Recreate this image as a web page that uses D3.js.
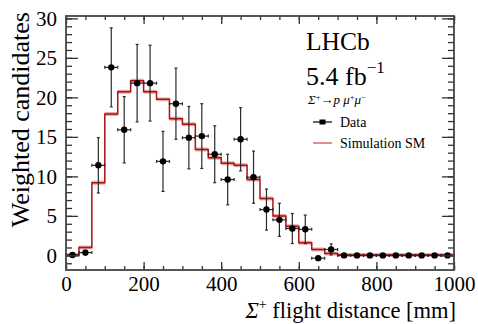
<!DOCTYPE html>
<html>
<head>
<meta charset="utf-8">
<script src="https://cdn.jsdelivr.net/npm/d3@7"></script>
<style>
  body { margin: 0; background: #fff; }
  svg text { font-family: "Liberation Serif", "Times New Roman", Times, serif !important; fill: #000; }
</style>
</head>
<body>
<svg id="chart"></svg>
<script>
// Histogram binning (30 bins of 33.3 mm)
const xMin = 0;
const xMax = 1000;
const nBins = 30;

// Data: weighted candidates per bin and their uncertainties
const dataValues = [0.05, 0.35, 11.4, 23.8, 15.9, 21.8, 21.8, 11.9, 19.2, 14.9,
                    15.1, 12.8, 9.6, 14.7, 9.9, 5.8, 4.5, 3.4, 3.3, -0.35,
                    0.75, 0, 0, 0, 0, 0, 0, 0, 0, 0];
const dataErrors = [0, 0.3, 3.5, 5.0, 4.2, 4.9, 4.8, 3.8, 4.5, 3.95,
                    4.1, 3.6, 3.2, 4.0, 3.3, 2.6, 2.1, 1.9, 1.8, 0.2,
                    0.7, 0, 0, 0, 0, 0, 0, 0, 0, 0];

// Simulation SM histogram
const simValues = [0.05, 1.0, 9.2, 17.9, 20.7, 22.1, 20.7, 19.75, 17.3, 16.6,
                   13.4, 12.35, 11.65, 11.4, 9.6, 7.2, 5.0, 3.7, 1.6, 0.75,
                   0.25, 0.05, 0.05, 0.05, 0.05, 0.05, 0.05, 0.05, 0.05, 0.05];

// Axis ticks
const xMajorTicks = [0, 200, 400, 600, 800, 1000];
const yMajorTicks = [0, 5, 10, 15, 20, 25, 30];

function drawChart() {
    const width = 478;
    const height = 324;
    const margin = { top: 16, right: 24, bottom: 54, left: 66 };

    const svg = d3.select('#chart')
        .attr('width', width)
        .attr('height', height)
        .attr('font-family', '"Liberation Serif", "Times New Roman", serif');

    const x = d3.scaleLinear()
        .domain([xMin, xMax])
        .range([margin.left, width - margin.right]);

    const y = d3.scaleLinear()
        .domain([-1.85, 30.3])
        .range([height - margin.bottom, margin.top]);

    const binWidth = (xMax - xMin) / nBins;
    const bins = d3.range(nBins).map(i => ({
        lo: xMin + i * binWidth,
        hi: xMin + (i + 1) * binWidth,
        mid: xMin + (i + 0.5) * binWidth,
        data: dataValues[i],
        err: dataErrors[i],
        sim: simValues[i]
    }));

    // Simulation as a step line with a pale band underneath
    const stepPoints = [];
    bins.forEach(b => {
        stepPoints.push([b.lo, b.sim]);
        stepPoints.push([b.hi, b.sim]);
    });

    svg.append('path')
        .attr('fill', '#e9a9a9')
        .attr('d', d3.area()
            .curve(d3.curveStepAfter)
            .x(d => x(d.lo))
            .y0(d => y(d.sim - 0.25))
            .y1(d => y(d.sim + 0.25))(bins.concat([{ lo: xMax, sim: bins[nBins - 1].sim }])));

    svg.append('path')
        .attr('fill', 'none')
        .attr('stroke', '#b01010')
        .attr('stroke-width', 1.5)
        .attr('d', d3.line().x(d => x(d[0])).y(d => y(d[1]))(stepPoints));

    // Data points with error bars
    const pts = svg.append('g');
    bins.forEach(b => {
        const cx = x(b.mid);
        const cy = y(b.data);
        const g = pts.append('g').attr('stroke', '#2a2a2a').attr('stroke-width', 1.2);
        // horizontal bar
        g.append('line').attr('x1', x(b.lo)).attr('x2', x(b.hi)).attr('y1', cy).attr('y2', cy);
        g.append('line').attr('x1', x(b.lo)).attr('x2', x(b.lo)).attr('y1', cy - 1.5).attr('y2', cy + 1.5);
        g.append('line').attr('x1', x(b.hi)).attr('x2', x(b.hi)).attr('y1', cy - 1.5).attr('y2', cy + 1.5);
        // vertical bar
        if (b.err > 0) {
            const top = y(b.data + b.err);
            const bot = y(b.data - b.err);
            g.append('line').attr('x1', cx).attr('x2', cx).attr('y1', top).attr('y2', bot);
            g.append('line').attr('x1', cx - 1.5).attr('x2', cx + 1.5).attr('y1', top).attr('y2', top);
            g.append('line').attr('x1', cx - 1.5).attr('x2', cx + 1.5).attr('y1', bot).attr('y2', bot);
        }
        pts.append('circle')
            .attr('cx', cx)
            .attr('cy', cy)
            .attr('r', 3.2)
            .attr('fill', '#000');
    });

    // Axes: ticks drawn inward on all four sides
    const x0 = margin.left, x1 = width - margin.right;
    const y0 = height - margin.bottom, y1 = margin.top;
    const xMinor = d3.range(xMin, xMax + 1, 50);
    const yMinor = d3.range(-1, 31, 1);

    function styleAxis(g) {
        g.select('.domain').remove();
        g.attr('font-family', null);
        g.selectAll('line').attr('stroke', '#333').attr('stroke-width', 1.3);
    }

    svg.append('g')
        .attr('transform', `translate(0,${y0})`)
        .call(d3.axisBottom(x).tickValues(xMinor).tickSize(-4).tickFormat(''))
        .call(styleAxis);
    svg.append('g')
        .attr('transform', `translate(0,${y0})`)
        .call(d3.axisBottom(x).tickValues(xMajorTicks).tickSize(-8).tickPadding(6).tickFormat(d3.format('d')))
        .call(styleAxis)
        .selectAll('text')
        .attr('font-size', 21);

    svg.append('g')
        .attr('transform', `translate(0,${y1})`)
        .call(d3.axisTop(x).tickValues(xMinor).tickSize(-4).tickFormat(''))
        .call(styleAxis);
    svg.append('g')
        .attr('transform', `translate(0,${y1})`)
        .call(d3.axisTop(x).tickValues(xMajorTicks).tickSize(-8).tickFormat(''))
        .call(styleAxis);

    svg.append('g')
        .attr('transform', `translate(${x0},0)`)
        .call(d3.axisLeft(y).tickValues(yMinor).tickSize(-6).tickFormat(''))
        .call(styleAxis);
    svg.append('g')
        .attr('transform', `translate(${x0},0)`)
        .call(d3.axisLeft(y).tickValues(yMajorTicks).tickSize(-12).tickPadding(9).tickFormat(d3.format('d')))
        .call(styleAxis)
        .selectAll('text')
        .attr('font-size', 21);

    svg.append('g')
        .attr('transform', `translate(${x1},0)`)
        .call(d3.axisRight(y).tickValues(yMinor).tickSize(-6).tickFormat(''))
        .call(styleAxis);
    svg.append('g')
        .attr('transform', `translate(${x1},0)`)
        .call(d3.axisRight(y).tickValues(yMajorTicks).tickSize(-12).tickFormat(''))
        .call(styleAxis);

    // Frame
    svg.append('rect')
        .attr('x', x0)
        .attr('y', y1)
        .attr('width', x1 - x0)
        .attr('height', y0 - y1)
        .attr('fill', 'none')
        .attr('stroke', '#444')
        .attr('stroke-width', 1.8);

    // Axis titles
    svg.append('text')
        .attr('transform', `translate(29,${y1 - 4}) rotate(-90)`)
        .attr('text-anchor', 'end')
        .attr('font-size', 26)
        .text('Weighted candidates');

    const xt = svg.append('text')
        .attr('x', x1 + 2)
        .attr('y', 318)
        .attr('text-anchor', 'end')
        .attr('font-size', 22.5);
    xt.append('tspan').attr('font-style', 'italic').text('Σ');
    xt.append('tspan').attr('font-size', 14).attr('dy', -9).text('+');
    xt.append('tspan').attr('dy', 9).text(' flight distance [mm]');

    // LHCb label
    const lx = 306;
    svg.append('text').attr('x', lx).attr('y', 50).attr('font-size', 25.5).text('LHCb');
    const lumi = svg.append('text').attr('x', lx).attr('y', 85).attr('font-size', 26);
    lumi.append('tspan').text('5.4 fb');
    lumi.append('tspan').attr('font-size', 17).attr('dy', -12).text('−1');

    const decay = svg.append('text').attr('x', 308).attr('y', 104).attr('font-size', 13);
    decay.append('tspan').attr('font-style', 'italic').text('Σ');
    decay.append('tspan').attr('font-size', 8.5).attr('dy', -4.5).text('+');
    decay.append('tspan').attr('dy', 4.5).text('→');
    decay.append('tspan').attr('font-style', 'italic').text('p μ');
    decay.append('tspan').attr('font-size', 8.5).attr('dy', -4.5).text('+');
    decay.append('tspan').attr('font-style', 'italic').attr('dy', 4.5).text('μ');
    decay.append('tspan').attr('font-size', 8.5).attr('dy', -4.5).text('−');

    // Legend
    const leg = svg.append('g');
    leg.append('line').attr('x1', 313).attr('x2', 332).attr('y1', 122).attr('y2', 122)
        .attr('stroke', '#000').attr('stroke-width', 1.2);
    leg.append('rect').attr('x', 319.5).attr('y', 119.5).attr('width', 6).attr('height', 5).attr('fill', '#000');
    leg.append('text').attr('x', 340).attr('y', 126.5).attr('font-size', 14).text('Data');
    leg.append('line').attr('x1', 313).attr('x2', 332).attr('y1', 143).attr('y2', 143)
        .attr('stroke', '#d46a6a').attr('stroke-width', 1.5);
    leg.append('text').attr('x', 340).attr('y', 147.5).attr('font-size', 14).text('Simulation SM');
}

drawChart();
</script>
</body>
</html>
